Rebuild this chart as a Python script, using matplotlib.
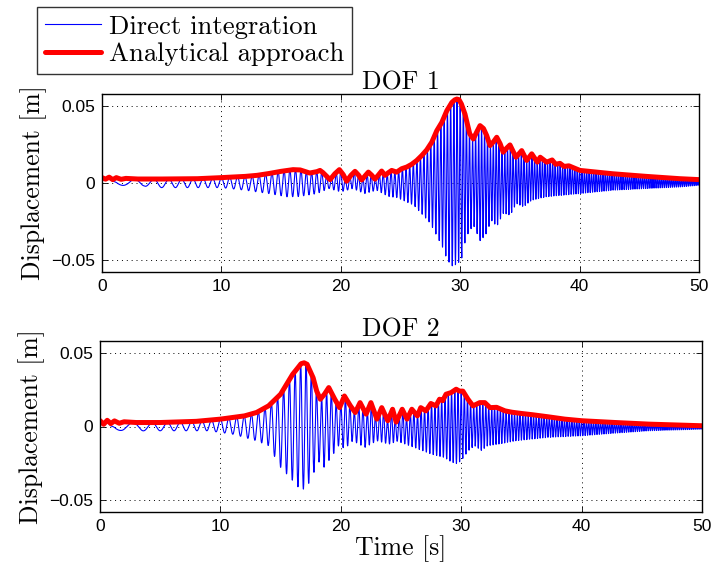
import numpy as np
import matplotlib
matplotlib.use("Agg")
import matplotlib.pyplot as plt

# ---------------- data ----------------
# carrier of the direct-integration response (linear sweep, read by counting cycles)
carrier_f0 = 0.2      # Hz at t=0
carrier_rate = 0.12   # Hz per second

# DOF 1: analytical envelope
dof1_red_t = [0.0, 0.3, 0.6, 0.9, 1.2, 1.6, 2.0, 3, 5, 8, 10, 12, 13, 14, 15, 16, 16.6, 17.4,
              18.0, 18.26, 18.5, 19.1, 19.5, 19.88, 20.2, 20.49, 20.85, 21.19, 21.5, 21.75,
              22.05, 22.31, 22.6, 22.86, 23.15, 23.42, 23.7, 24.0, 24.26, 24.68,
              25.1, 25.52, 25.94, 26.36, 26.78, 27.2, 27.62, 28.04, 28.46, 28.88, 29.3, 29.55,
              29.72, 29.9, 30.1, 30.4, 30.8, 31.1, 31.4, 31.66, 31.95, 32.22, 32.5, 32.8, 33.06,
              33.35, 33.6, 33.9, 34.17, 34.67, 35.15, 35.57, 35.99, 36.46, 36.7, 37.24, 37.7,
              38.0, 38.36, 38.7, 39.1, 40.03, 42.8, 45.6, 48.4, 50]
dof1_red_v = [0.0035, 0.0025, 0.0038, 0.0022, 0.0035, 0.0024, 0.0030, 0.0026, 0.0026, 0.0028,
              0.0035, 0.0043, 0.0050, 0.0062, 0.0076, 0.0087, 0.0085, 0.0065,
              0.0074, 0.0082, 0.0068, 0.0022, 0.0060, 0.0087, 0.0055, 0.0012, 0.0050, 0.0076,
              0.0050, 0.0020, 0.0048, 0.0071, 0.0050, 0.0025, 0.0052, 0.0078, 0.0050, 0.0068,
              0.0082, 0.0071, 0.0093, 0.0104, 0.0122, 0.0147, 0.0179, 0.0216, 0.0266, 0.0341,
              0.0395, 0.0471, 0.0525, 0.0542, 0.0547, 0.0543, 0.0515, 0.0449, 0.0320, 0.0287,
              0.0335, 0.0374, 0.0355, 0.0309, 0.0244, 0.0270, 0.0298, 0.0255, 0.0201, 0.0228,
              0.0248, 0.0168, 0.0211, 0.0147, 0.0190, 0.0136, 0.0168, 0.0136, 0.0150, 0.0122,
              0.0128, 0.0108, 0.0112, 0.0082, 0.0060, 0.0043, 0.0028, 0.0022]
# DOF 1: lower envelope of the direct-integration response
dof1_blue_t = [0, 1, 2, 2.5, 3.5, 4.3, 6, 8, 10, 12, 14, 15.5, 16.5, 18, 19, 20, 21, 22, 23, 24,
               24.7, 26.1, 27.5, 28.5, 28.9, 29.3, 29.7, 30.1, 30.5, 31.1, 31.7, 32.2, 32.6,
               33.06, 33.6, 34.2, 34.7, 35.3, 36.0, 37.2, 40, 42.8, 45.6, 48.4, 50]
dof1_blue_v = [0.0005, -0.0005, -0.0020, -0.0036, -0.0020, -0.0030, -0.0030, -0.0030, -0.0030,
               -0.0047, -0.0069, -0.0090, -0.0088, -0.0069, -0.0036, -0.0058, -0.0036, -0.0069,
               -0.0047, -0.0088, -0.0095, -0.0144, -0.0263, -0.0414, -0.0500, -0.0544, -0.0530,
               -0.0500, -0.0350, -0.0274, -0.0382, -0.0328, -0.0242, -0.0285, -0.0198, -0.0209,
               -0.0133, -0.0155, -0.0112, -0.0090, -0.0069, -0.0047, -0.0036, -0.0026, -0.0015]

# DOF 2: analytical envelope
dof2_red_t = [0.0, 0.3, 0.6, 0.9, 1.2, 1.6, 2.0, 3, 5, 8, 10, 12, 13, 14, 15, 16, 16.45, 16.7,
              16.95, 17.2, 17.7, 18.0, 18.3, 18.65, 19.0, 19.5, 19.9, 20.3, 20.8, 21.2, 21.6,
              22.1, 22.5, 23.0, 23.4, 23.9, 24.3, 24.6, 25.1, 25.5, 25.9, 26.36, 26.64, 27.06,
              27.48, 27.9, 28.2, 28.46, 28.74, 29.16, 29.58, 29.86, 30.14, 30.56, 30.98,
              31.54, 31.96, 32.4, 32.94, 33.64, 34.2, 35.04, 35.9, 37.2, 38.6, 40.03, 42.8,
              45.6, 50]
dof2_red_v = [0.0040, 0.0015, 0.0042, 0.0020, 0.0038, 0.0022, 0.0032, 0.0027, 0.0027, 0.0035,
              0.0050, 0.0072, 0.0095, 0.0140, 0.0219, 0.0354, 0.0400, 0.0426, 0.0432, 0.0422,
              0.0331, 0.0240, 0.0185, 0.0220, 0.0264, 0.0185, 0.0128, 0.0207, 0.0140, 0.0095,
              0.0162, 0.0084, 0.0162, 0.0050, 0.0128, 0.0039, 0.0117, 0.0030, 0.0117, 0.0050,
              0.0117, 0.0072, 0.0128, 0.0106, 0.0156, 0.0140, 0.0185, 0.0175, 0.0219, 0.0230,
              0.0253, 0.0240, 0.0240, 0.0185, 0.0140, 0.0162, 0.0162, 0.0128, 0.0130, 0.0106,
              0.0097, 0.0088, 0.0080, 0.0066, 0.0050, 0.0039, 0.0027, 0.0016, 0.0005]
# DOF 2: lower envelope of the direct-integration response
dof2_blue_t = [0, 1, 2, 5, 9, 10, 11, 12, 13, 14, 15, 16, 16.7, 17.2, 17.7, 18.2, 18.6, 19.2,
               19.9, 20.3, 21.0, 22.0, 23.0, 24.0, 24.7, 26.1, 27.5, 28.6, 29.2, 29.7, 30.1,
               30.6, 31.1, 31.7, 32.2, 33.1, 34.5, 35.9, 37.2, 40, 42.8, 45.6, 50]
dof2_blue_v = [0.0, -0.0020, -0.0030, -0.0029, -0.0029, -0.0040, -0.0052, -0.0074, -0.0097,
               -0.0130, -0.0277, -0.0367, -0.0434, -0.0410, -0.0322, -0.0240, -0.0277, -0.0210,
               -0.0120, -0.0153, -0.0097, -0.0142, -0.0097, -0.0120, -0.0100, -0.0142, -0.0187,
               -0.0210, -0.0243, -0.0254, -0.0220, -0.0164, -0.0130, -0.0164, -0.0130, -0.0120,
               -0.0097, -0.0085, -0.0074, -0.0063, -0.0045, -0.0029, -0.0018]

titles = ["DOF 1", "DOF 2"]
xticks = [0, 10, 20, 30, 40, 50]
yticks = [-0.05, 0, 0.05]
yticklabels = ["\u22120.05", "0", "0.05"]
legend_labels = ["Direct integration", "Analytical approach"]
xlabel = "Time [s]"
ylabel = "Displacement [m]"

# ---------------- drawing ----------------
serif = "cmr10"
tickfont = "Liberation Sans"
SERIF_SIZE = 18.5
LEGEND_SIZE = 19.2
TICK_SIZE = 12.5

W, H = 712, 572
fig = plt.figure(figsize=(W / 100, H / 100), dpi=100)

def rect(l, r, t, b):
    return [l / W, 1 - b / H, (r - l) / W, (b - t) / H]

ax1 = fig.add_axes(rect(102, 699, 94, 272))
ax2 = fig.add_axes(rect(100, 702, 341, 512))

t = np.linspace(0, 50, 5001)
phase = 2 * np.pi * (carrier_f0 * t + 0.5 * carrier_rate * t ** 2)

data = [(dof1_red_t, dof1_red_v, dof1_blue_t, dof1_blue_v),
        (dof2_red_t, dof2_red_v, dof2_blue_t, dof2_blue_v)]

handles = None
for ax, (rt, rv, bt, bv), title in zip([ax1, ax2], data, titles):
    top = np.interp(t, rt, rv)
    low = np.interp(t, bt, bv)
    blue = 0.5 * (top + low) + 0.5 * (top - low) * np.cos(phase)
    hb, = ax.plot(t, blue, color=(0, 0, 1), lw=0.8)
    hr, = ax.plot(rt, rv, color=(1, 0, 0), lw=3.6, solid_joinstyle="round",
                  solid_capstyle="round")
    handles = [hb, hr]
    ax.set_xlim(0, 50)
    ax.set_ylim(-0.058, 0.058)
    ax.set_xticks(xticks)
    ax.set_xticklabels([str(v) for v in xticks], fontfamily=tickfont, fontsize=TICK_SIZE)
    ax.set_yticks(yticks)
    ax.set_yticklabels(yticklabels, fontfamily=tickfont, fontsize=TICK_SIZE)
    ax.tick_params(direction="in", top=True, right=True, length=4, width=0.6, pad=5)
    ax.grid(True, linestyle=(0, (1, 4)), color="black", linewidth=0.7)
    for s in ax.spines.values():
        s.set_linewidth(1.0)
    ax.set_title(title, fontfamily=serif, fontsize=SERIF_SIZE, pad=3)
    ax.set_ylabel(ylabel, fontfamily=serif, fontsize=SERIF_SIZE, labelpad=3)

ax2.set_xlabel(xlabel, fontfamily=serif, fontsize=SERIF_SIZE, labelpad=1)

leg = fig.legend(handles, legend_labels, loc="upper left",
                 bbox_to_anchor=(37 / W, 1 - 7 / H),
                 prop={"family": serif, "size": LEGEND_SIZE}, frameon=True, fancybox=False,
                 edgecolor="black", borderpad=0.3, handlelength=2.1, handletextpad=0.3,
                 labelspacing=0.15, borderaxespad=0)
leg.get_frame().set_linewidth(1.0)

fig.savefig("out.png", dpi=100)
